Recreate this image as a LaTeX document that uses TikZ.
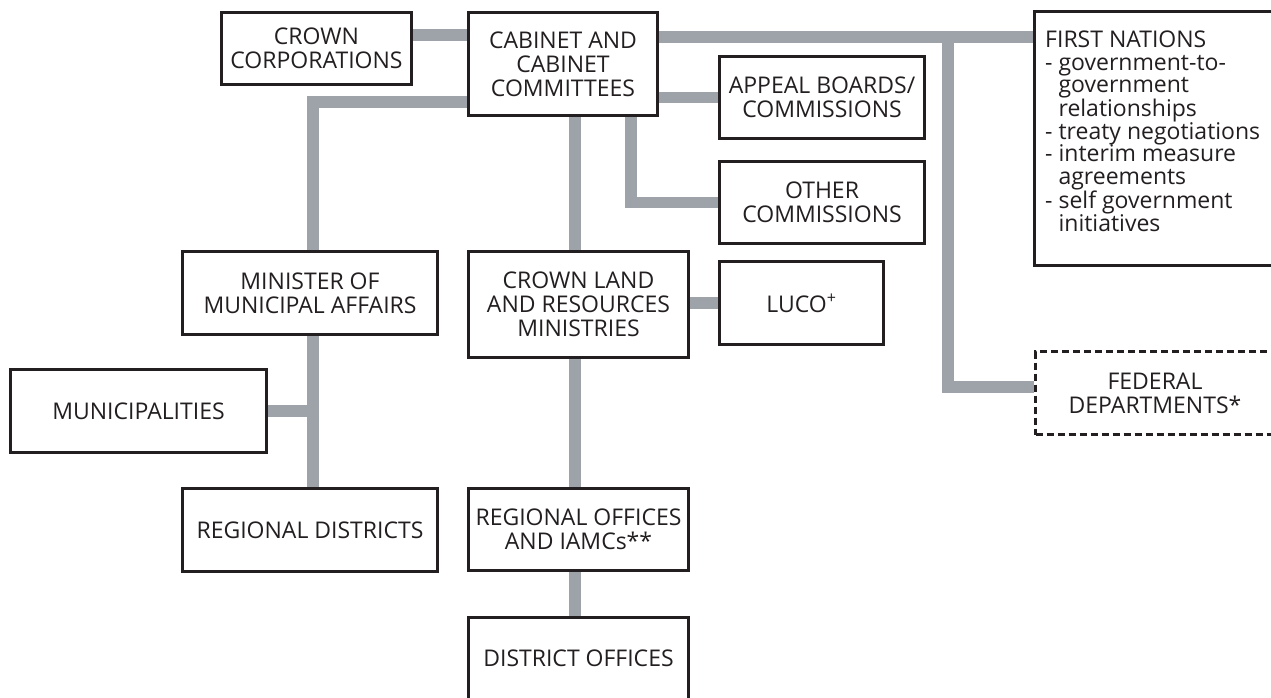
\documentclass[tikz,border=0pt]{standalone}
\usepackage{fontspec}
\setmainfont{Open Sans}
\usetikzlibrary{calc}
\definecolor{conncol}{RGB}{158,163,170}
\definecolor{ink}{RGB}{35,31,32}
\pgfdeclarelayer{bg}
\pgfsetlayers{bg,main}
\begin{document}
\begin{tikzpicture}[x=1pt,y=-1pt,
  box/.style={draw=ink, line width=2.6pt, fill=white, inner sep=0pt, align=center, text=ink,
    font=\fontsize{23}{24}\selectfont},
  dbox/.style={box, dash pattern=on 7pt off 4pt},
  link/.style={draw=conncol, line width=11.5pt, line join=miter}]
\useasboundingbox (0,0) rectangle (1271,698);
\clip (0,0) rectangle (1271,698);

% boxes
\node[box, minimum width=190pt, minimum height=72pt] (cc) at (316.5,48.5) {CROWN\\CORPORATIONS};
\node[box, minimum width=189pt, minimum height=103pt] (cab) at (563,64) {CABINET AND\\CABINET\\COMMITTEES};
\node[box, minimum width=205pt, minimum height=82pt] (app) at (822,97.5) {APPEAL BOARDS/\\COMMISSIONS};
\node[box, minimum width=205pt, minimum height=82pt] (oth) at (822,202.5) {OTHER\\COMMISSIONS};
\node[box, minimum width=240pt, minimum height=254pt] (fn) at (1154.5,138.5) {};
\node[anchor=north west, inner sep=0pt, align=left, text=ink, font=\fontsize{23}{22.5}\selectfont] (fntext) at (1045,31)
  {FIRST NATIONS\\
   - government-to-\\
   \hphantom{- }government\\
   \hphantom{- }relationships\\
   - treaty negotiations\\
   - interim measure\\
   \hphantom{- }agreements\\
   - self government\\
   \hphantom{- }initiatives};
\node[box, minimum width=255pt, minimum height=83pt] (min) at (310,293) {MINISTER OF\\MUNICIPAL AFFAIRS};
\node[box, minimum width=220pt, minimum height=106pt] (cl) at (578.5,304.5) {CROWN LAND\\AND RESOURCES\\MINISTRIES};
\node[box, minimum width=164pt, minimum height=83pt] (luco) at (801.5,303) {LUCO\textsuperscript{+}};
\node[box, minimum width=256pt, minimum height=83pt] (mun) at (138.5,411) {MUNICIPALITIES};
\node[box, minimum width=255pt, minimum height=83pt] (rd) at (310,530) {REGIONAL DISTRICTS};
\node[box, minimum width=220pt, minimum height=82pt] (ro) at (578.5,529.5) {REGIONAL OFFICES\\AND IAMCs**};
\node[box, minimum width=220pt, minimum height=82pt] (do) at (578.5,658.5) {DISTRICT OFFICES};
\node[dbox, minimum width=239pt, minimum height=83pt] (fed) at (1155,393) {FEDERAL\\DEPARTMENTS*};

% junction coordinates
\coordinate (jm) at (313,102);
\coordinate (jr) at (948,37);
\coordinate (jc) at (575,0);
\coordinate (jo) at (631,0);

\begin{pgfonlayer}{bg}
\draw[link] (cc.east |- 0,35) -- (cab.west |- 0,35);
\draw[link] (cab.east |- jr) -- (fn.west |- jr);
\draw[link] (jr) |- (fed.west |- 0,387);
\draw[link] (cab.west |- jm) -- (jm) -- (jm |- min.north);
\draw[link] (jm |- min.south) -- (jm |- rd.north);
\draw[link] (mun.east) -- (mun.east -| jm);
\draw[link] (jc |- cab.south) -- (jc |- cl.north);
\draw[link] (jo |- cab.south) |- (oth.west);
\draw[link] (app.west -| cab.east) -- (app.west);
\draw[link] (luco.west -| cl.east) -- (luco.west);
\draw[link] (jc |- cl.south) -- (jc |- ro.north);
\draw[link] (jc |- ro.south) -- (jc |- do.north);
\end{pgfonlayer}
\end{tikzpicture}
\end{document}
